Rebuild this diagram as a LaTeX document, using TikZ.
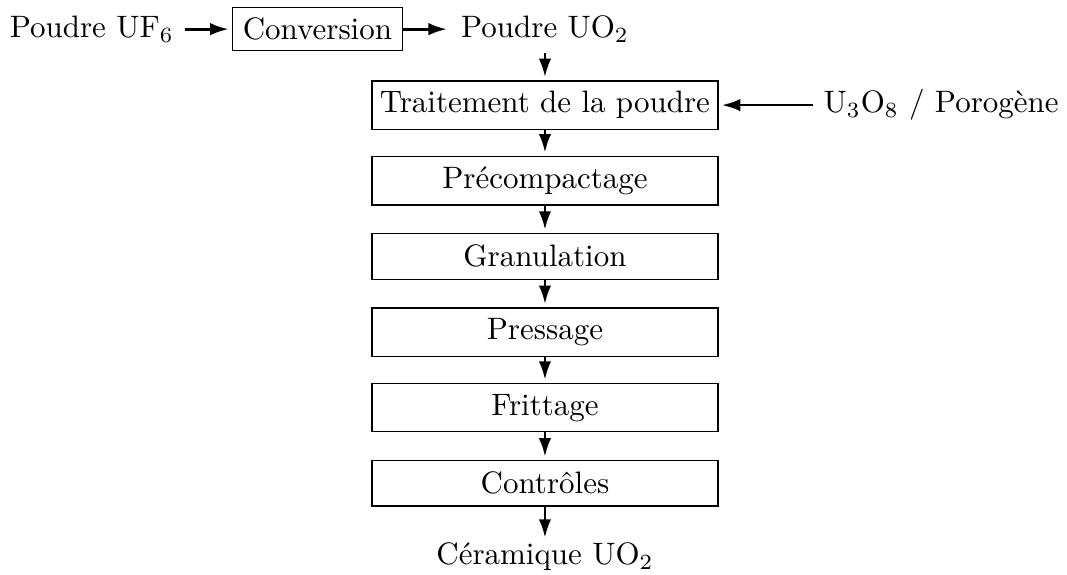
\documentclass[tikz,border=0pt]{standalone}
\usepackage{amssymb}
\usepackage{mathtools}
\usepackage{tikz}
\usetikzlibrary{arrows.meta}
\usetikzlibrary{positioning}
\tikzset{>={Latex[width=4pt,length=6pt]}}
\tikzset{etape/.style={draw,minimum width=111.6pt,minimum height=14.7pt,inner xsep=2pt}}
\tikzset{fleche/.style={->,line width=0.9pt,shorten >=1pt}}

\begin{document}
\begin{tikzpicture}[x=1pt,y=1pt]

  \newcommand\pas{24.4}
  \useasboundingbox (-175.8,-151.3) rectangle (168.4,33.9);

  %% chaine principale
  \node[etape] (trait) at (0,0) {Traitement de la poudre};
  \node[etape] (precomp) at (0,-1*\pas) {Pr\'ecompactage};
  \node[etape] (granu) at (0,-2*\pas) {Granulation};
  \node[etape] (press) at (0,-3*\pas) {Pressage};
  \node[etape] (fritt) at (0,-4*\pas) {Frittage};
  \node[etape] (ctrl) at (0,-5*\pas) {Contr\^oles};
  \node[inner sep=0.5pt] (cera) at (0,-145.8) {C\'eramique UO$_2$};

  %% conversion
  \node (uo2) at (0,24.5) {Poudre UO$_2$};
  \node[draw] (conv) at (-73.4,24.5) {Conversion};
  \node (uf6) at (-146.2,24.5) {Poudre UF$_6$};

  \node (u3o8) at (127.8,0) {U$_3$O$_8$ / Porog\`ene};

  \draw[fleche] (uf6) -- (conv);
  \draw[fleche] (conv) -- (uo2);
  \draw[fleche] (uo2) -- (trait);
  \draw[fleche] (u3o8) -- (trait);

  \draw[fleche] (trait) -- (precomp);
  \draw[fleche] (precomp) -- (granu);
  \draw[fleche] (granu) -- (press);
  \draw[fleche] (press) -- (fritt);
  \draw[fleche] (fritt) -- (ctrl);
  \draw[fleche] (ctrl) -- (cera);

\end{tikzpicture}
\end{document}
